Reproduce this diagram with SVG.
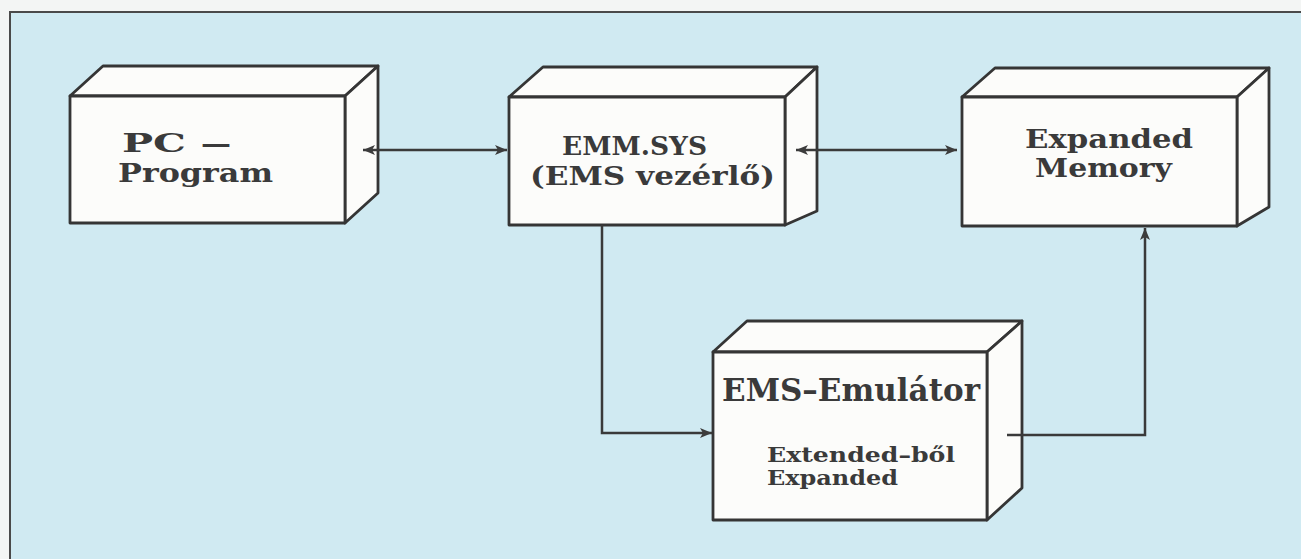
<svg xmlns="http://www.w3.org/2000/svg" width="1301" height="559" viewBox="0 0 1301 559">
  <style>
    .face { fill: #fcfcfa; stroke: #353535; stroke-width: 2.8; stroke-linejoin: round; }
    .lbl { font-family: "DejaVu Serif", "Liberation Serif", serif; font-weight: bold; fill: #3a3a3a; }
    .big { font-size: 26px; }
    .huge { font-size: 32px; }
    .small { font-size: 20px; }
    .wire { fill: none; stroke: #3a3a3a; stroke-width: 2.5; }
  </style>
  <defs>
    <marker id="arrow" markerUnits="userSpaceOnUse" markerWidth="15" markerHeight="12" refX="12" refY="5.5" orient="auto-start-reverse">
      <path d="M0,0.5 L12,5.5 L0,10.5 L3,5.5 z" fill="#3c3c3c"/>
    </marker>
  </defs>

  <!-- page margin and tinted panel -->
  <rect x="0" y="0" width="1301" height="559" fill="#f3f5f4"/>
  <rect x="10" y="12" width="1300" height="560" fill="#d0eaf2" stroke="#4a4a4a" stroke-width="2"/>

  <!-- PC program -->
  <g id="pc-program">
    <path class="face" d="M70,96 L103,66 L378,66 L345,96 Z"/>
    <path class="face" d="M345,96 L378,66 L378,193 L345,223 Z"/>
    <rect class="face" x="70" y="96" width="275" height="127"/>
    <text class="lbl big" y="152"><tspan x="122" textLength="64" lengthAdjust="spacingAndGlyphs">PC</tspan><tspan x="199" textLength="34" lengthAdjust="spacingAndGlyphs">–</tspan></text>
    <text class="lbl big" x="118" y="182" textLength="155" lengthAdjust="spacingAndGlyphs">Program</text>
  </g>

  <!-- EMM.SYS driver -->
  <g id="emm-sys">
    <path class="face" d="M509,97 L543,67 L817,67 L785,97 Z"/>
    <path class="face" d="M785,97 L817,67 L817,211 L785,225 Z"/>
    <rect class="face" x="509" y="97" width="276" height="128"/>
    <text class="lbl big" x="562" y="155" textLength="145" lengthAdjust="spacingAndGlyphs">EMM.SYS</text>
    <text class="lbl big" x="530" y="185" textLength="245" lengthAdjust="spacingAndGlyphs">(EMS  vezérlő)</text>
  </g>

  <!-- Expanded memory -->
  <g id="expanded-memory">
    <path class="face" d="M962,97 L995,68 L1269,68 L1237,97 Z"/>
    <path class="face" d="M1237,97 L1269,68 L1269,207 L1237,226 Z"/>
    <rect class="face" x="962" y="97" width="275" height="129"/>
    <text class="lbl big" x="1025" y="148" textLength="168" lengthAdjust="spacingAndGlyphs">Expanded</text>
    <text class="lbl big" x="1035" y="177" textLength="137" lengthAdjust="spacingAndGlyphs">Memory</text>
  </g>

  <!-- EMS emulator -->
  <g id="ems-emulator">
    <path class="face" d="M713,352 L747,321 L1022,321 L987,352 Z"/>
    <path class="face" d="M987,352 L1022,321 L1022,488 L987,520 Z"/>
    <rect class="face" x="713" y="352" width="274" height="168"/>
    <text class="lbl huge" x="722" y="401" textLength="258" lengthAdjust="spacingAndGlyphs">EMS–Emulátor</text>
    <text class="lbl small" x="767" y="462" textLength="188" lengthAdjust="spacingAndGlyphs">Extended–ből</text>
    <text class="lbl small" x="767" y="485" textLength="131" lengthAdjust="spacingAndGlyphs">Expanded</text>
  </g>

  <!-- connectors -->
  <g id="connectors">
    <path class="wire" d="M363,150 L507,150" marker-start="url(#arrow)" marker-end="url(#arrow)"/>
    <path class="wire" d="M796,150 L957,150" marker-start="url(#arrow)" marker-end="url(#arrow)"/>
    <path class="wire" d="M602,225 L602,433 L712,433" marker-end="url(#arrow)"/>
    <path class="wire" d="M1007,435 L1145,435 L1145,228" marker-end="url(#arrow)"/>
  </g>
</svg>
